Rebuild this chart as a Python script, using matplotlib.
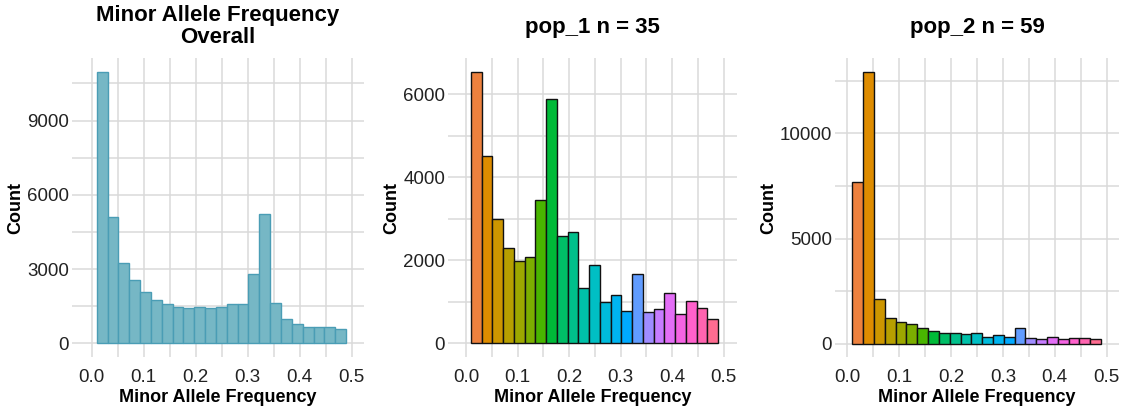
import numpy as np
import matplotlib
matplotlib.use('Agg')
import matplotlib.pyplot as plt
from matplotlib.ticker import MultipleLocator

plt.rcParams['font.family'] = ['Liberation Sans', 'DejaVu Sans']

# histogram bins (minor allele frequency)
BIN_START = 0.0095
BIN_WIDTH = 0.02087
N_BINS = 23

overall_counts = [10950, 5116, 3241, 2558, 2062, 1768, 1580, 1487, 1433, 1487, 1433, 1487,
                  1580, 1580, 2799, 5210, 1620, 978, 790, 683, 683, 683, 589]
pop1_counts = [6545, 4508, 3000, 2294, 1989, 2086, 3449, 5888, 2583, 2679, 1323, 1877,
               995, 1171, 786, 1676, 754, 818, 1203, 706, 1019, 842, 586]
pop2_counts = [7670, 12932, 2139, 1204, 1030, 919, 729, 618, 507, 507, 444, 507,
               333, 396, 333, 729, 269, 206, 333, 206, 269, 269, 206]

titles = ['Minor Allele Frequency\nOverall', 'pop_1 n = 35', 'pop_2 n = 59']
x_label = 'Minor Allele Frequency'
y_label = 'Count'

W, H = 1125, 417
GRID = '#DADADA'


def hcl_to_hex(h, c=100.0, l=65.0):
    # polar LUV -> sRGB, same as ggplot's hue palette
    xn, yn, zn = 95.047, 100.0, 108.883
    u = c * np.cos(np.radians(h))
    v = c * np.sin(np.radians(h))
    y = yn * ((l + 16) / 116) ** 3 if l > 8 else yn * l / 903.3
    un = 4 * xn / (xn + 15 * yn + 3 * zn)
    vn = 9 * yn / (xn + 15 * yn + 3 * zn)
    up = u / (13 * l) + un
    vp = v / (13 * l) + vn
    x = y * 9 * up / (4 * vp)
    z = y * (12 - 3 * up - 20 * vp) / (4 * vp)
    xyz = np.array([x, y, z]) / 100
    m = np.array([[3.2404542, -1.5371385, -0.4985314],
                  [-0.9692660, 1.8760108, 0.0415560],
                  [0.0556434, -0.2040259, 1.0572252]])
    rgb = m @ xyz
    rgb = np.where(rgb <= 0.0031308, 12.92 * rgb, 1.055 * np.clip(rgb, 0, None) ** (1 / 2.4) - 0.055)
    rgb = np.clip(rgb, 0, 1)
    return '#%02x%02x%02x' % tuple(int(round(v * 255)) for v in rgb)


hue_colors = [hcl_to_hex(30 + 15 * i) for i in range(N_BINS)]
centers = BIN_START + BIN_WIDTH * (np.arange(N_BINS) + 0.5)

# panel boxes in pixels: left, top, right, bottom
panels = [(72, 58, 364, 357), (448, 58, 737, 357), (835, 58, 1119, 357)]
xlims = [(-0.038, 0.524), (-0.035, 0.526), (-0.024, 0.524)]
ylims = [(-548, 11530), (-327, 6872), (-632, 13580)]
ymajor = [3000, 2000, 5000]
title_y = [26.5, 27, 27]

fig = plt.figure(figsize=(W / 100, H / 100), dpi=100)

data = [overall_counts, pop1_counts, pop2_counts]
for i, (l, t, r, b) in enumerate(panels):
    ax = fig.add_axes([l / W, 1 - b / H, (r - l) / W, (b - t) / H])
    if i == 0:
        ax.bar(centers, data[i], width=BIN_WIDTH, color='#76B7C5', edgecolor='#4A9DB5',
               linewidth=1.0, zorder=3)
    else:
        ax.bar(centers, data[i], width=BIN_WIDTH, color=hue_colors, edgecolor='#111111',
               linewidth=1.0, zorder=3)
    ax.set_xlim(*xlims[i])
    ax.set_ylim(*ylims[i])
    ax.xaxis.set_minor_locator(MultipleLocator(0.05))
    ax.yaxis.set_major_locator(MultipleLocator(ymajor[i]))
    ax.yaxis.set_minor_locator(MultipleLocator(ymajor[i] / 2))
    ax.set_xticks([0, 0.1, 0.2, 0.3, 0.4, 0.5])
    ax.set_xticklabels(['0.0', '0.1', '0.2', '0.3', '0.4', '0.5'])
    ax.grid(which='both', color=GRID, linewidth=1.1, zorder=0)
    ax.set_axisbelow(True)
    for s in ax.spines.values():
        s.set_visible(False)
    ax.tick_params(which='both', length=0, labelsize=13.5, colors='#222222')
    ax.tick_params(axis='x', pad=9)
    ax.tick_params(axis='y', pad=2)
    ax.set_xlabel(x_label, fontsize=13, fontweight='bold', labelpad=2)
    ax.set_ylabel(y_label, fontsize=13, fontweight='bold', labelpad=2)
    fig.text((l + r) / 2 / W, 1 - title_y[i] / H, titles[i], ha='center', va='center',
             fontsize=16, fontweight='bold', linespacing=1.04)

fig.savefig('out.png', dpi=100)
